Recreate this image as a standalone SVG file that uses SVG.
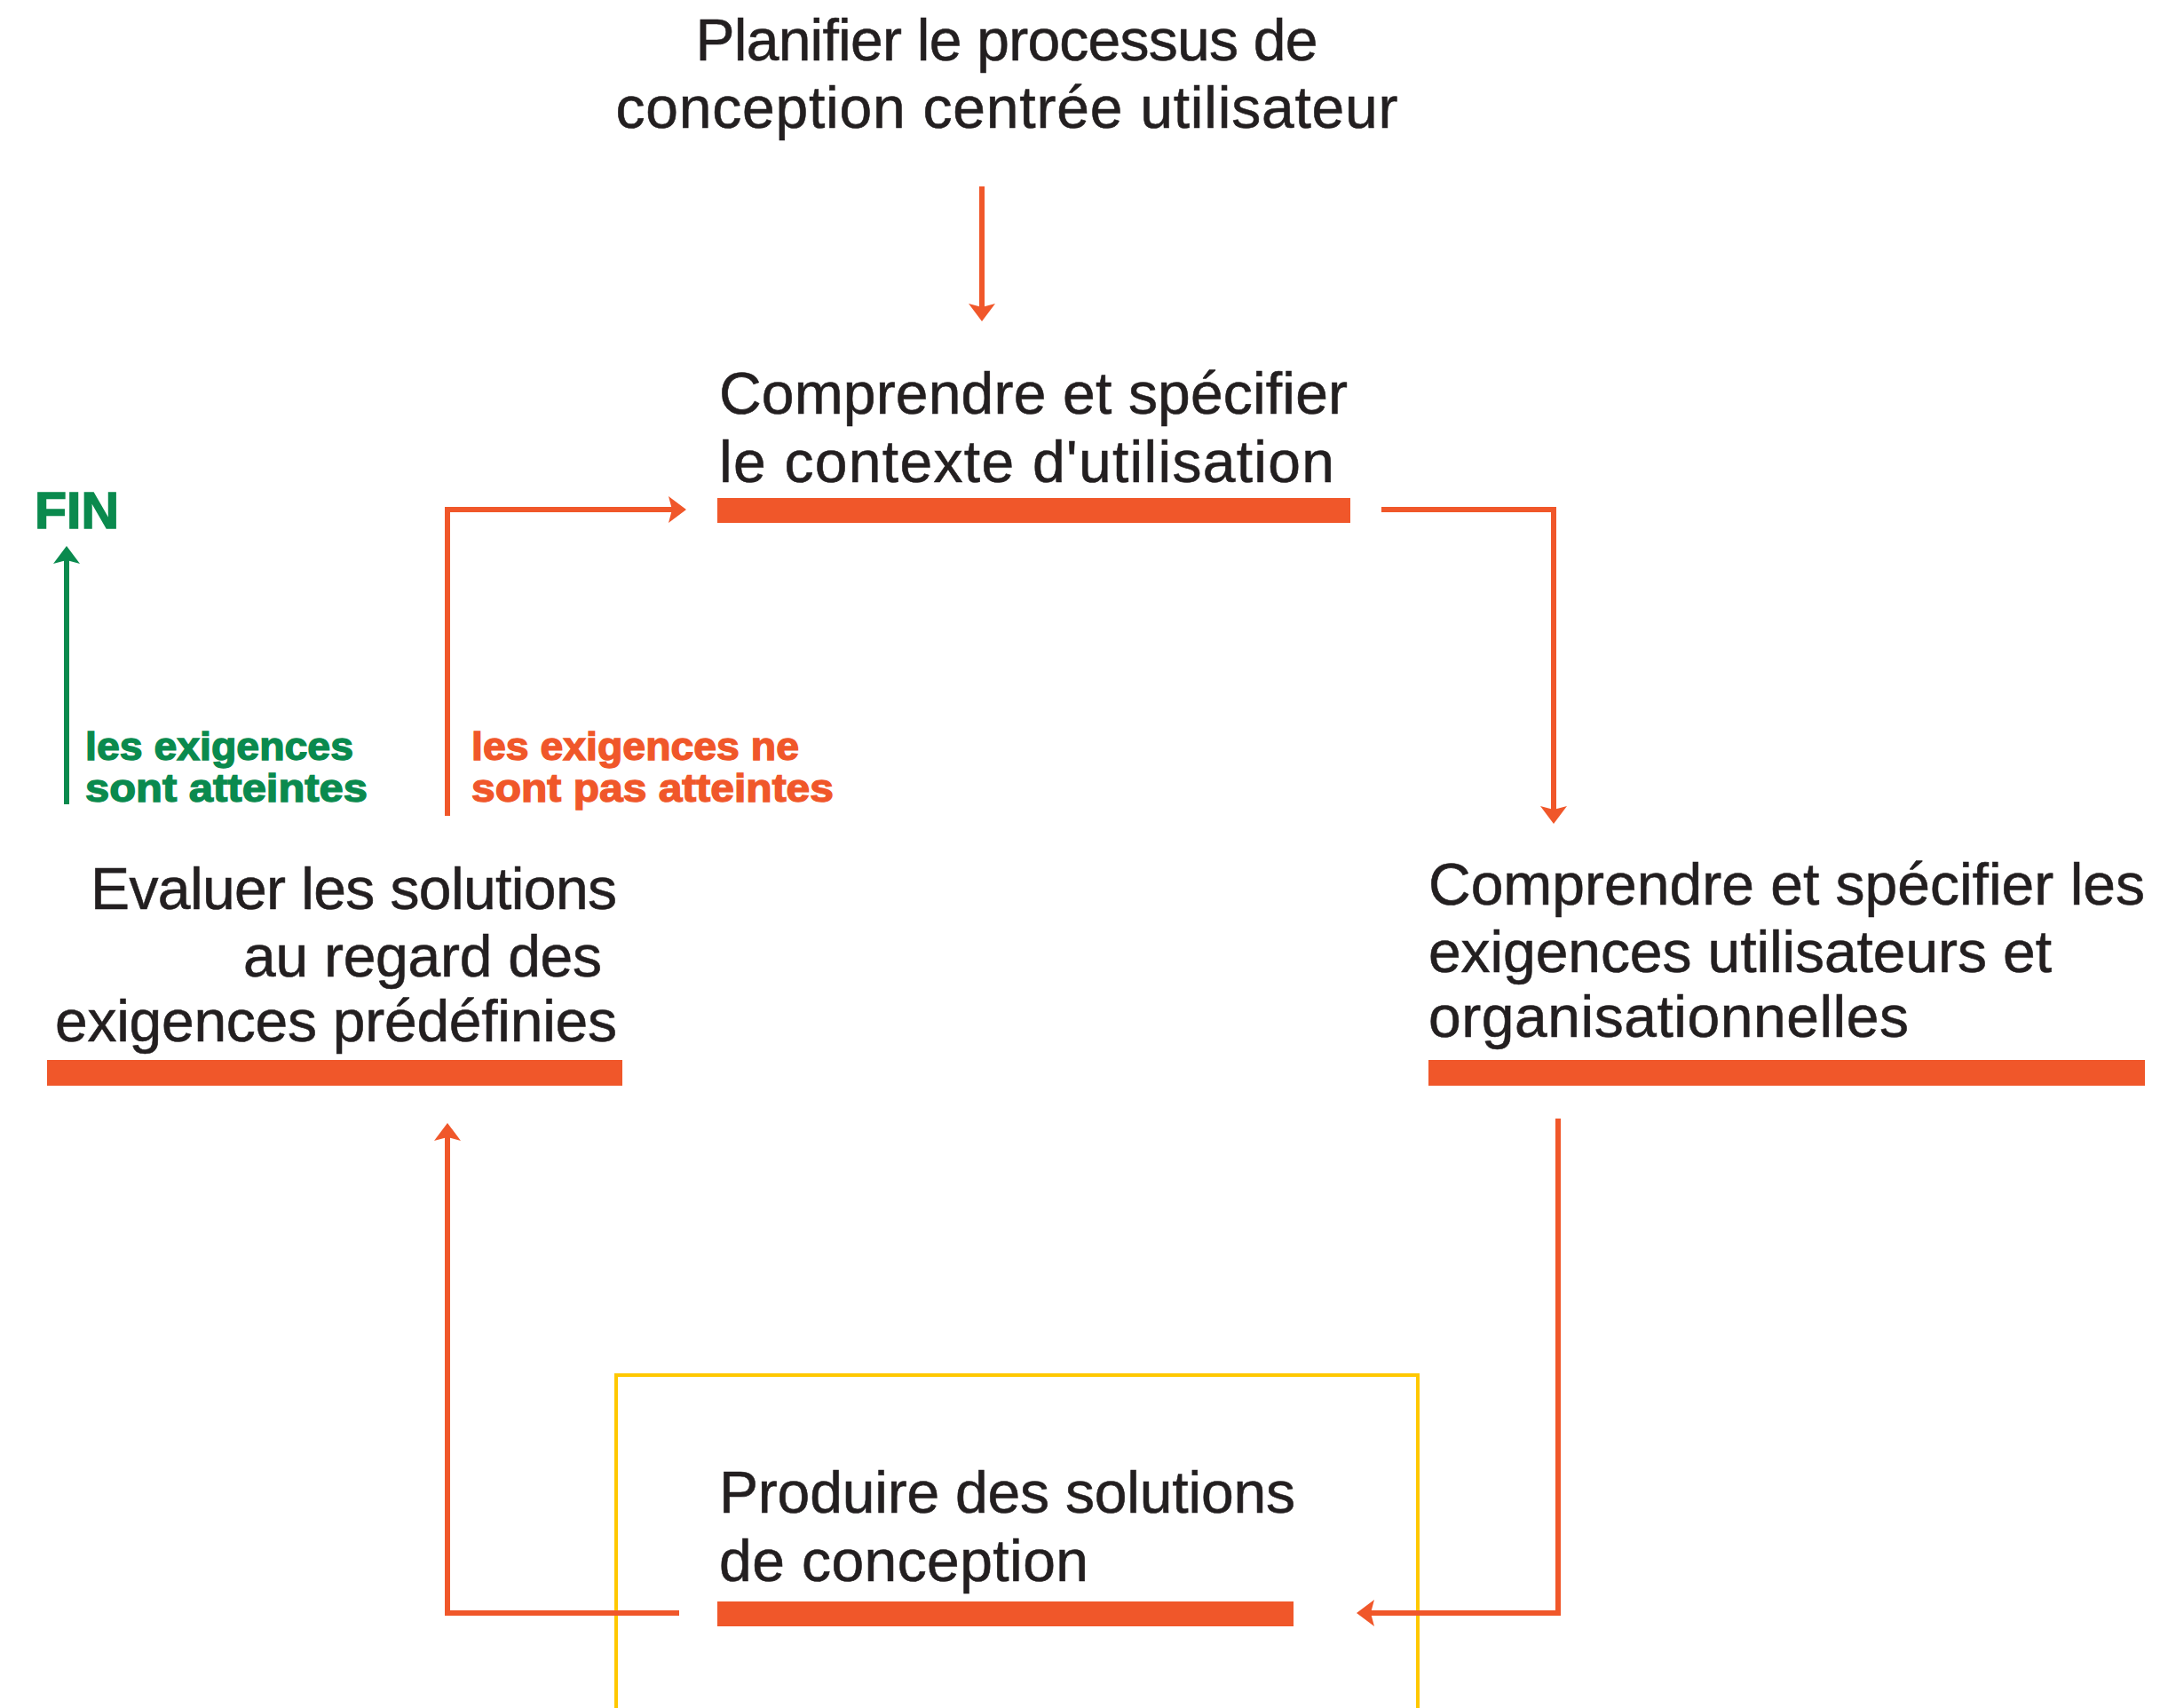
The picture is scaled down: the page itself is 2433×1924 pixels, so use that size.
<svg xmlns="http://www.w3.org/2000/svg" width="2433" height="1924" viewBox="0 0 2433 1924">
  <style>
    .t { font-family: "Liberation Sans", Arial, sans-serif; font-size: 66px; fill: #231f20; stroke: #231f20; stroke-width: 0.6; }
    .lbl { font-family: "Liberation Sans", Arial, sans-serif; font-size: 45px; font-weight: bold; stroke-width: 1.4; }
    .bar { fill: #f0572a; }
    .conn { fill: none; stroke: #f0572a; stroke-width: 6; stroke-linejoin: miter; }
    .green { fill: none; stroke: #0a8a4e; stroke-width: 6; }
  </style>
  <defs>
    <marker id="ah" viewBox="0 0 20 30" refX="4" refY="15" markerWidth="20" markerHeight="30" markerUnits="userSpaceOnUse" orient="auto">
      <path d="M0,0 L20,15 L0,30 L4,15 z" fill="#f0572a"/>
    </marker>
    <marker id="ahg" viewBox="0 0 20 30" refX="4" refY="15" markerWidth="20" markerHeight="30" markerUnits="userSpaceOnUse" orient="auto">
      <path d="M0,0 L20,15 L0,30 L4,15 z" fill="#0a8a4e"/>
    </marker>
  </defs>
  <rect width="2433" height="1924" fill="#ffffff"/>

  <rect id="frame" x="694" y="1549" width="903" height="400" fill="none" stroke="#ffc800" stroke-width="4"/>

  <g id="plan">
    <text class="t" x="1134" y="68" text-anchor="middle" textLength="701">Planifier le processus de</text>
    <text class="t" x="1134" y="144" text-anchor="middle" textLength="881">conception centrée utilisateur</text>
  </g>

  <g id="contexte">
    <text class="t" x="810" y="466" textLength="708">Comprendre et spécifier</text>
    <text class="t" x="810" y="543" textLength="693">le contexte d'utilisation</text>
    <rect class="bar" x="808" y="561" width="713" height="28"/>
  </g>

  <g id="exigences">
    <text class="t" x="1609" y="1019" textLength="807">Comprendre et spécifier les</text>
    <text class="t" x="1609" y="1095" textLength="702">exigences utilisateurs et</text>
    <text class="t" x="1609" y="1168" textLength="541">organisationnelles</text>
    <rect class="bar" x="1609" y="1194" width="807" height="29"/>
  </g>

  <g id="produire">
    <text class="t" x="810" y="1704" textLength="649">Produire des solutions</text>
    <text class="t" x="810" y="1781" textLength="416">de conception</text>
    <rect class="bar" x="808" y="1804" width="649" height="28"/>
  </g>

  <g id="evaluer">
    <text class="t" x="695" y="1024" text-anchor="end" textLength="593">Evaluer les solutions</text>
    <text class="t" x="678" y="1100" text-anchor="end" textLength="404">au regard des</text>
    <text class="t" x="695" y="1173" text-anchor="end" textLength="633">exigences prédéfinies</text>
    <rect class="bar" x="53" y="1194" width="648" height="29"/>
  </g>

  <g id="fin">
    <text x="39" y="595" font-family="Liberation Sans, Arial, sans-serif" font-size="57" font-weight="bold" fill="#0a8a4e" stroke="#0a8a4e" stroke-width="1.5" textLength="95" lengthAdjust="spacingAndGlyphs">FIN</text>
  </g>

  <g id="connectors">
    <path class="conn" d="M1106,210 V346" marker-end="url(#ah)"/>
    <path class="conn" d="M504,919 V574 H757" marker-end="url(#ah)"/>
    <path class="conn" d="M1556,574 H1750 V912" marker-end="url(#ah)"/>
    <path class="conn" d="M1755,1260 V1817 H1544" marker-end="url(#ah)"/>
    <path class="conn" d="M765,1817 H504 V1281" marker-end="url(#ah)"/>
    <path class="green" d="M75,906 V631" marker-end="url(#ahg)"/>
    <text class="lbl" x="96" y="856" fill="#0a8a4e" stroke="#0a8a4e" textLength="302" lengthAdjust="spacingAndGlyphs">les exigences</text>
    <text class="lbl" x="96" y="903" fill="#0a8a4e" stroke="#0a8a4e" textLength="318" lengthAdjust="spacingAndGlyphs">sont atteintes</text>
    <text class="lbl" x="531" y="856" fill="#f0572a" stroke="#f0572a" textLength="369" lengthAdjust="spacingAndGlyphs">les exigences ne</text>
    <text class="lbl" x="531" y="903" fill="#f0572a" stroke="#f0572a" textLength="408" lengthAdjust="spacingAndGlyphs">sont pas atteintes</text>
  </g>
</svg>
